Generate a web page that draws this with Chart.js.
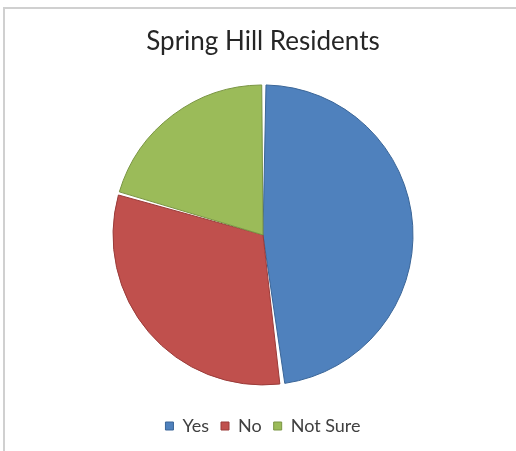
<!DOCTYPE html>
<html>
<head>
<meta charset="utf-8">
<script src="https://cdn.jsdelivr.net/npm/chart.js@4/dist/chart.umd.min.js"></script>
<style>
    html, body { margin: 0; padding: 0; background: #ffffff; overflow: hidden; }
    #wrap { position: relative; width: 516px; height: 451px; }
    #frame {
        position: absolute; left: 3px; top: 7px; right: 0; bottom: 0;
        border-left: 2px solid #d0d0d0; border-top: 2px solid #d0d0d0;
        pointer-events: none;
    }
    #chart-box { position: absolute; left: 0; top: 0; width: 516px; height: 445px; }
</style>
</head>
<body>
<div id="wrap">
    <div id="chart-box"><canvas id="residents-chart"></canvas></div>
    <div id="frame"></div>
</div>
<script>
// --- DATA ---
const CATEGORIES = ['Yes', 'No', 'Not Sure'];
const SHARES = [48, 31.5, 20.5];
const FILL_COLORS = ['#4f81bd', '#c0504d', '#9bbb59'];
const EDGE_COLORS = ['#3a6597', '#9a3b39', '#7a9544'];

const FONT_FAMILY = 'Lato, "Open Sans", sans-serif';

// --- RENDER ---
const ctx = document.getElementById('residents-chart').getContext('2d');
new Chart(ctx, {
    type: 'pie',
    data: {
        labels: CATEGORIES,
        datasets: [{
            data: SHARES,
            backgroundColor: FILL_COLORS,
            borderColor: EDGE_COLORS,
            borderWidth: 1,
            spacing: 2
        }]
    },
    options: {
        responsive: true,
        maintainAspectRatio: false,
        animation: false,
        radius: 149,
        layout: { padding: { left: 10, right: 0, top: 0, bottom: 0 } },
        plugins: {
            title: {
                display: true,
                text: 'Spring Hill Residents',
                color: '#262626',
                font: { family: FONT_FAMILY, size: 26, weight: 'normal', lineHeight: 1.2 },
                padding: { top: 26.5, bottom: 7.2 }
            },
            legend: {
                position: 'bottom',
                labels: {
                    color: '#404040',
                    font: { family: FONT_FAMILY, size: 18 },
                    boxWidth: 8,
                    boxHeight: 8,
                    padding: 12
                }
            },
            tooltip: { enabled: false }
        }
    }
});
</script>
</body>
</html>
